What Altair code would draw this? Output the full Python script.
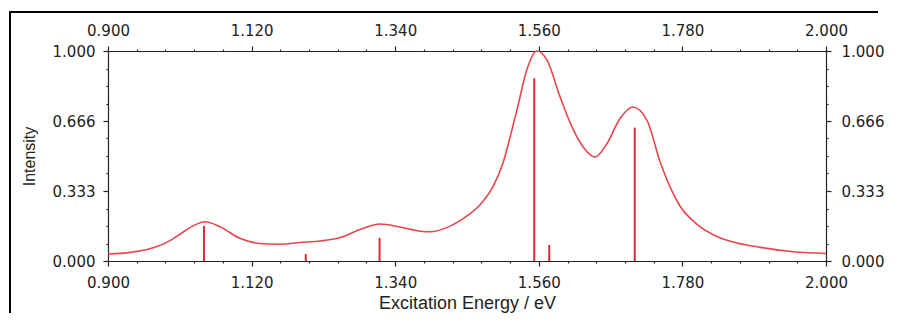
import altair as alt
import pandas as pd

# Broadened spectrum
curve_x = [0.900, 0.934, 0.964, 0.995, 1.010, 1.026, 1.049, 1.072, 1.102, 1.133, 1.164,
           1.194, 1.225, 1.256, 1.286, 1.317, 1.347, 1.378, 1.393, 1.424, 1.444,
           1.470, 1.490, 1.505, 1.516, 1.527, 1.542, 1.557, 1.573, 1.592, 1.612,
           1.634, 1.646, 1.664, 1.684, 1.704, 1.726, 1.746, 1.776, 1.802, 1.833,
           1.864, 1.899, 1.950, 2.000]
curve_y = [0.033, 0.041, 0.058, 0.097, 0.127, 0.160, 0.187, 0.162, 0.108, 0.083, 0.080,
           0.088, 0.095, 0.112, 0.150, 0.176, 0.162, 0.142, 0.139, 0.166, 0.202,
           0.268, 0.355, 0.465, 0.590, 0.725, 0.914, 1.000, 0.954, 0.787, 0.630,
           0.520, 0.495, 0.557, 0.676, 0.733, 0.668, 0.470, 0.263, 0.176, 0.117,
           0.086, 0.065, 0.044, 0.036]

# Stick transitions
stick_x = [1.047, 1.203, 1.316, 1.553, 1.576, 1.707]
stick_y = [0.167, 0.033, 0.110, 0.870, 0.076, 0.635]

# Axes
x_major_labels = ["0.900", "1.120", "1.340", "1.560", "1.780", "2.000"]
y_major_labels = ["0.000", "0.333", "0.666", "1.000"]
x_minor_per_major = 5
y_minor_per_major = 4

x_min, x_max = 0.9, 2.0
x_step = 0.22 / x_minor_per_major
x_tick_values = [round(x_min + i * x_step, 4) for i in range(int(round((x_max - x_min) / x_step)) + 1)]
n_y = (len(y_major_labels) - 1) * y_minor_per_major
y_tick_values = [i / n_y for i in range(n_y + 1)]

x_major_test = f"abs((datum.value - {x_min}) / 0.22 - round((datum.value - {x_min}) / 0.22)) < 0.001"
y_major_test = f"abs(datum.value * {len(y_major_labels)-1} - round(datum.value * {len(y_major_labels)-1})) < 0.001"
x_label_expr = f"({x_major_test}) ? format(datum.value, '.3f') : ''"
y_arr = "[" + ",".join(f"'{s}'" for s in y_major_labels) + "]"
y_label_expr = f"({y_major_test}) ? {y_arr}[round(datum.value * {len(y_major_labels)-1})] : ''"

curve_df = pd.DataFrame({"x": curve_x, "y": curve_y})
stick_df = pd.DataFrame({"x": stick_x, "y": stick_y})
frame_df = pd.DataFrame({"k": [0]})

LABEL_FONT = "DejaVu Sans"
TITLE_FONT = "Liberation Sans"
AX_COLOR = "#222222"


def make_axis(orient, values, label_expr, test, title=None, pad=8, title_size=16, title_pad=6):
    kw = dict(
        orient=orient,
        values=values,
        labelExpr=label_expr,
        labelOverlap=False,
        labelFlush=False,
        grid=False,
        domainColor=AX_COLOR,
        domainWidth=1.2,
        tickColor=AX_COLOR,
        tickWidth=1.2,
        tickSize={"condition": {"test": test, "value": 5}, "value": 2},
        labelFont=LABEL_FONT,
        labelFontSize=15,
        labelColor=AX_COLOR,
        labelPadding=pad,
    )
    if title:
        kw.update(title=title, titleFont=TITLE_FONT, titleFontSize=title_size,
                  titleFontWeight="normal", titleColor=AX_COLOR, titlePadding=title_pad)
    else:
        kw.update(title=None)
    return alt.Axis(**kw)


xs = alt.Scale(domain=[x_min, x_max], nice=False, zero=False)
ys = alt.Scale(domain=[0, 1], nice=False, zero=False)

line = alt.Chart(curve_df).mark_line(color="#e8464e", strokeWidth=1.6, interpolate="monotone").encode(
    x=alt.X("x:Q", scale=xs, axis=make_axis("bottom", x_tick_values, x_label_expr, x_major_test,
                                             title="Excitation Energy / eV", pad=9, title_size=18, title_pad=4)),
    y=alt.Y("y:Q", scale=ys, axis=make_axis("left", y_tick_values, y_label_expr, y_major_test,
                                             title="Intensity", pad=8, title_size=16, title_pad=15)),
)

sticks = alt.Chart(stick_df).mark_rule(color="#d92b35", strokeWidth=2).encode(
    x=alt.X("x:Q", scale=xs, axis=None),
    y=alt.Y("y:Q", scale=ys, axis=None),
    y2=alt.datum(0),
)

top_right = alt.Chart(curve_df).mark_point(opacity=0).encode(
    x=alt.X("x:Q", scale=xs, axis=make_axis("top", x_tick_values, x_label_expr, x_major_test, pad=8)),
    y=alt.Y("y:Q", scale=ys, axis=make_axis("right", y_tick_values, y_label_expr, y_major_test, pad=10)),
)

# outer picture frame (top and left edges visible)
frame_top = alt.Chart(frame_df).mark_rule(stroke="#000000", strokeWidth=2).encode(
    x=alt.value(-98), x2=alt.value(770), y=alt.value(-39)
)
frame_left = alt.Chart(frame_df).mark_rule(stroke="#000000", strokeWidth=2).encode(
    x=alt.value(-98), y=alt.value(-40), y2=alt.value(262)
)

chart = alt.layer(frame_top, frame_left, line, sticks, top_right).resolve_scale(
    x="independent", y="independent"
).properties(
    width=718,
    height=210,
    autosize=alt.AutoSizeParams(type="none"),
    padding={"left": 100, "top": 43, "right": 63, "bottom": 53},
    background="white",
).configure_view(stroke=None)

chart.save("out.html", embed_options={"renderer": "svg", "actions": False})
